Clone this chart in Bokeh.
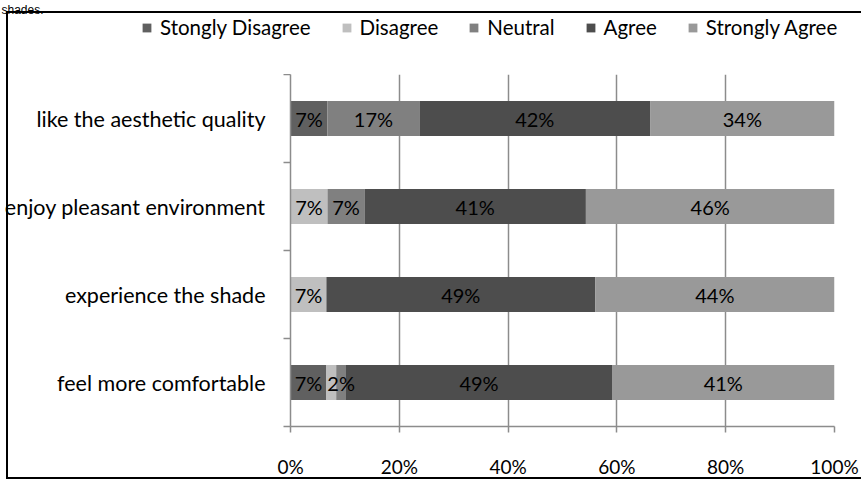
from bokeh.plotting import figure
from bokeh.layouts import column
from bokeh.models import (ColumnDataSource, FixedTicker, PrintfTickFormatter, Legend,
                          LegendItem, Range1d, Label)
from bokeh.embed import file_html
from bokeh.resources import INLINE
from bokeh.core.properties import value

# ---------------- data ----------------
categories = ["feel more comfortable", "experience the shade",
              "enjoy pleasant environment", "like the aesthetic quality"]
levels = ["Stongly Disagree", "Disagree", "Neutral", "Agree", "Strongly Agree"]
strongly_disagree = [6.6, 0.0, 0.0, 6.8]
disagree = [1.8, 6.6, 6.8, 0.0]
neutral = [1.8, 0.0, 6.8, 16.9]
agree = [48.9, 49.4, 40.7, 42.4]
strongly_agree = [40.9, 44.0, 45.7, 33.9]
x_ticks = [0, 20, 40, 60, 80, 100]
hidden_labels = [("feel more comfortable", "Disagree")]
caption = "shades."

colors = ["#606060", "#bfbfbf", "#808080", "#4d4d4d", "#999999"]
FONT = "Lato"
W = 861
TOP_H = 74

series = [strongly_disagree, disagree, neutral, agree, strongly_agree]
ypos = [i + 0.5 for i in range(len(categories))]
data = {"y": ypos}
for lv, s in zip(levels, series):
    data[lv] = s
source = ColumnDataSource(data)

# ---------------- top strip: caption + legend ----------------
# its ranges keep the stacked bars out of view; they only feed the legend swatches
top = figure(width=W, height=TOP_H, x_range=Range1d(0, 100), y_range=Range1d(100, 101),
             output_backend="svg", toolbar_location=None,
             x_axis_type=None, y_axis_type=None,
             min_border_left=0, min_border_right=0, min_border_top=0, min_border_bottom=0)
if "frame_align" in top.properties():
    top.frame_align = False
top.outline_line_color = None
top.background_fill_color = None
top.border_fill_color = None
top.xgrid.visible = False
top.ygrid.visible = False
legend_renderers = top.hbar_stack(levels, y="y", height=0.4, color=colors, source=source,
                                  line_color=None)
items = [LegendItem(label=lv, renderers=[r]) for lv, r in zip(levels, legend_renderers)]
legend = Legend(items=items, orientation="horizontal", location=(141, 35),
                glyph_width=11, glyph_height=11, label_standoff=8, spacing=30,
                padding=0, margin=0, border_line_alpha=0, background_fill_alpha=0,
                label_text_font=FONT, label_text_font_size="20.5px", label_height=20,
                label_text_color="#000000")
top.add_layout(legend)
top.add_layout(Label(x=1, y=TOP_H - 9, x_units="screen", y_units="screen", text=caption,
                     text_font="Liberation Sans", text_font_size="12px",
                     text_baseline="alphabetic", text_color="#000000"))

# ---------------- main chart ----------------
p = figure(width=W, height=481 - TOP_H, x_range=Range1d(0, 100),
           y_range=Range1d(0, len(categories)),
           output_backend="svg", toolbar_location=None,
           min_border_left=290, min_border_right=27, min_border_top=0, min_border_bottom=55)
if "frame_align" in p.properties():
    p.frame_align = False
p.outline_line_color = None
p.background_fill_color = "white"
p.border_fill_color = None

p.hbar_stack(levels, y="y", height=0.4, color=colors, source=source, line_color=None)

# data labels
lx, ly, lt = [], [], []
for i, cat in enumerate(categories):
    cum = 0.0
    for lv, s in zip(levels, series):
        v = s[i]
        if v > 0 and (cat, lv) not in hidden_labels:
            lx.append(cum + v / 2)
            ly.append(ypos[i])
            lt.append(f"{round(v)}%")
        cum += v
p.text(x="x", y="y", text="text", source=ColumnDataSource(dict(x=lx, y=ly, text=lt)),
       text_align="center", text_baseline="middle", text_font=value(FONT),
       text_font_size=value("20px"), text_color="#000000")

gray = "#8c8c8c"
xa = p.xaxis[0]
xa.ticker = FixedTicker(ticks=x_ticks)
xa.formatter = PrintfTickFormatter(format="%d%%")
xa.axis_line_color = gray
xa.axis_line_width = 1.5
xa.major_tick_line_color = gray
xa.major_tick_line_width = 1.5
xa.major_tick_out = 6
xa.major_tick_in = 0
xa.minor_tick_line_color = None
xa.major_label_standoff = 22
xa.major_label_text_font = FONT
xa.major_label_text_font_size = "19px"
xa.major_label_text_color = "#000000"

ya = p.yaxis[0]
ya.ticker = FixedTicker(ticks=ypos, minor_ticks=list(range(len(categories) + 1)))
ya.major_label_overrides = {y: c for y, c in zip(ypos, categories)}
ya.axis_line_color = gray
ya.axis_line_width = 1.5
ya.major_tick_line_color = None
ya.major_tick_out = 7
ya.major_tick_in = 0
ya.minor_tick_line_color = gray
ya.minor_tick_line_width = 1.5
ya.minor_tick_out = 7
ya.minor_tick_in = 0
ya.major_label_standoff = 18
ya.major_label_text_font = FONT
ya.major_label_text_font_size = "21.5px"
ya.major_label_text_color = "#000000"

p.xgrid.ticker = FixedTicker(ticks=x_ticks)
p.xgrid.grid_line_color = gray
p.xgrid.grid_line_width = 1.5
p.ygrid.grid_line_color = None

# chart-area border (left, top, bottom edges) as a CSS background of the layout
layout = column(top, p, spacing=0, styles={
    "background-color": "white",
    "background-image": "linear-gradient(#000,#000), linear-gradient(#000,#000), linear-gradient(#000,#000)",
    "background-size": "100% 2px, 2px 468px, 100% 2px",
    "background-position": "6px 11px, 6px 11px, 6px 477px",
    "background-repeat": "no-repeat",
})

open("out.html", "w").write(file_html(layout, INLINE))
